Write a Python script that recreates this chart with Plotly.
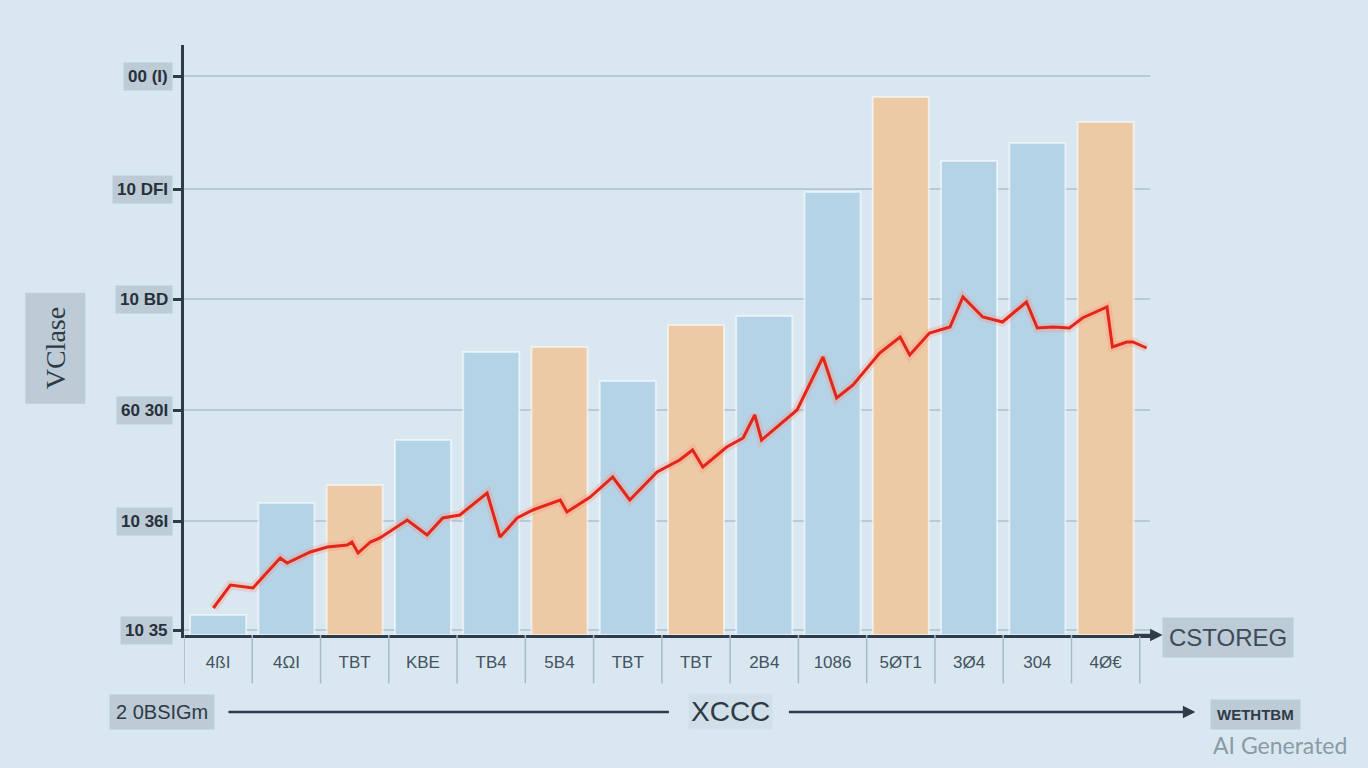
import plotly.graph_objects as go

# categories (garbled labels as printed on the source image)
CATEGORIES = ["4ßI", "4ΩI", "TBT", "KBE", "TB4", "5B4", "TBT",
              "TBT", "2B4", "1086", "5ØT1", "3Ø4", "304", "4Ø€"]
BAR_VALUES = [20, 132, 150, 195, 283, 288, 254, 310, 319, 443, 538, 474, 492, 513]
BAR_GROUP = ["blue", "blue", "orange", "blue", "blue", "orange", "blue",
             "orange", "blue", "blue", "orange", "blue", "blue", "orange"]

# red trend line (x in category units, y in value units)
LINE_X = [-0.07, 0.18, 0.51, 0.91, 1.01, 1.35, 1.60, 1.89, 1.96, 2.05, 2.23, 2.37,
          2.77, 3.06, 3.29, 3.54, 3.94, 4.13, 4.38, 4.61, 5.01, 5.11, 5.45, 5.78,
          6.03, 6.43, 6.76, 6.95, 7.10, 7.45, 7.69, 7.86, 7.96, 8.48, 8.86, 9.06,
          9.30, 9.69, 9.99, 10.13, 10.42, 10.72, 10.91, 11.20, 11.49, 11.84, 12.0,
          12.23, 12.47, 12.66, 13.02, 13.10, 13.31, 13.40, 13.60]
LINE_Y = [27, 50, 47, 77, 72, 83, 88, 90, 93, 82, 93, 97,
          115, 100, 117, 120, 142, 98, 117, 125, 135, 123, 138, 158,
          135, 163, 175, 185, 168, 188, 197, 220, 195, 225, 278, 237,
          250, 282, 298, 280, 302, 308, 338, 318, 313, 333, 307,
          308, 307, 317, 328, 288, 293, 293, 287]

Y_TICKS = [5, 114, 225, 336, 446, 559]
Y_TICK_TEXT = ["10 35", "10 36I", "60 30I", "10 BD", "10 DFI", "00 (I)"]

COLORS = {"blue": "#b4d3e6", "orange": "#edcaa6"}
AXIS = "#2e3b4a"
BOX = "#bccbd6"
FONT = "Liberation Sans, Arial, sans-serif"

fig = go.Figure()
fig.add_trace(go.Bar(
    x=list(range(len(CATEGORIES))), y=BAR_VALUES,
    marker=dict(color=[COLORS[g] for g in BAR_GROUP],
                line=dict(color="rgba(255,255,255,0.55)", width=2)),
    showlegend=False,
))
fig.add_trace(go.Scatter(
    x=LINE_X, y=LINE_Y, mode="lines",
    line=dict(color="rgba(255,140,120,0.28)", width=9),
    showlegend=False, hoverinfo="skip",
))
fig.add_trace(go.Scatter(
    x=LINE_X, y=LINE_Y, mode="lines",
    line=dict(color="#e3261a", width=3),
    showlegend=False,
))

# vertical separators between x tick label cells
shapes = []
for k in range(len(CATEGORIES) + 1):
    shapes.append(dict(type="line", xref="x", yref="paper", x0=k - 0.5, x1=k - 0.5,
                       y0=0, y1=-0.082, line=dict(color="#a9b9c5", width=1.5)))
# x axis title guide line (left part)
shapes.append(dict(type="line", xref="paper", yref="paper", x0=0.046, x1=0.502,
                   y0=-0.1305, y1=-0.1305, line=dict(color=AXIS, width=2.5)))


def label(text, x, y, size, color="#2f3a46", bg=BOX, pad=5, family=FONT, **kw):
    return dict(text=text, xref="paper", yref="paper", x=x, y=y, xanchor="center",
                yanchor="middle", showarrow=False, bgcolor=bg, borderpad=pad,
                font=dict(family=family, size=size, color=color), **kw)


annotations = []
for v, t in zip(Y_TICKS, Y_TICK_TEXT):
    annotations.append(dict(text="<b>" + t + "</b>", xref="paper", yref="y", x=0, y=v,
                            xanchor="right", yanchor="middle", xshift=-11, showarrow=False,
                            bgcolor=BOX, borderpad=4,
                            font=dict(family=FONT, size=17, color="#27303b")))
annotations += [
    # x axis arrow head
    dict(xref="paper", yref="paper", x=1.013, y=0, ax=-30, ay=0, showarrow=True,
         arrowhead=2, arrowsize=1, arrowwidth=2.5, arrowcolor=AXIS, text=""),
    # right guide arrow
    dict(xref="paper", yref="paper", x=1.047, y=-0.1305, ax=-408, ay=0, showarrow=True,
         arrowhead=2, arrowsize=1, arrowwidth=2.5, arrowcolor=AXIS, text=""),
    label("XCCC", 0.566, -0.1305, 28, bg="rgba(200,214,224,0.5)", pad=2),
    label("CSTOREG", 1.0807, -0.004, 24, color="#3d4a57", pad=6),
    label("<b>WETHTBM</b>", 1.1087, -0.134, 15, pad=6),
    label("2 0BSIGm", -0.0228, -0.1305, 20, pad=6),
    label("VClase", -0.1335, 0.486, 28, pad=14, family="Liberation Serif, serif",
          textangle=-90),
    label("AI Generated", 1.1346, -0.186, 23, color="#8a9aa6", bg="rgba(0,0,0,0)", pad=0,
          family="Lato, Open Sans, sans-serif"),
]

fig.update_layout(
    width=1368, height=768,
    margin=dict(l=184, r=218, t=45, b=133),
    paper_bgcolor="#d9e8f0",
    plot_bgcolor="rgba(0,0,0,0)",
    bargap=0.18,
    shapes=shapes,
    annotations=annotations,
    font=dict(family=FONT),
    xaxis=dict(
        range=[-0.5, 13.65], tickmode="array", tickvals=list(range(len(CATEGORIES))),
        ticktext=CATEGORIES, showgrid=False, zeroline=False, showline=True,
        linecolor=AXIS, linewidth=3, ticks="", ticklabelstandoff=10,
        tickfont=dict(family=FONT, size=17, color="#45525f"),
    ),
    yaxis=dict(
        range=[0, 590], tickmode="array", tickvals=Y_TICKS, showticklabels=False,
        showgrid=True, gridcolor="#b8cad6", gridwidth=1.5, zeroline=False,
        showline=True, linecolor=AXIS, linewidth=3, ticks="outside", ticklen=8,
        tickwidth=2.5, tickcolor=AXIS,
    ),
)

fig.write_html("out.html", config={"displayModeBar": False},
               post_script="document.body.style.margin='0';")
